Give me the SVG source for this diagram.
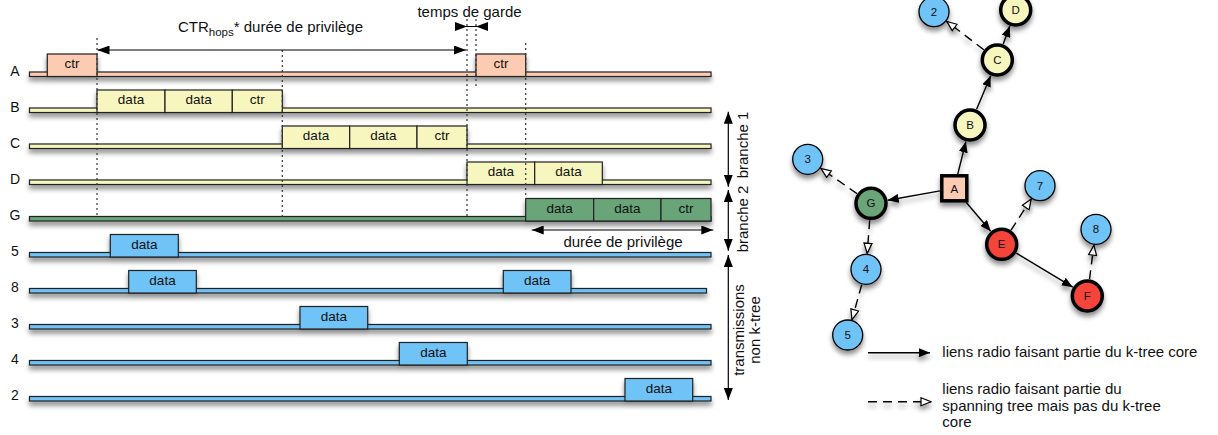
<svg xmlns="http://www.w3.org/2000/svg" width="1218" height="435" viewBox="0 0 1218 435">
<defs>
<filter id="sh" filterUnits="userSpaceOnUse" x="0" y="0" width="1218" height="435">
<feDropShadow dx="0" dy="4" stdDeviation="2.8" flood-color="#000" flood-opacity="0.45"/>
</filter>
<marker id="fa" viewBox="0 0 12 9" refX="12" refY="4.5" markerWidth="12" markerHeight="9" markerUnits="userSpaceOnUse" orient="auto-start-reverse">
<path d="M0,0 L12,4.5 L0,9 Z" fill="#000"/>
</marker>
<marker id="ga" viewBox="0 0 11 9" refX="11" refY="4.5" markerWidth="11" markerHeight="9" markerUnits="userSpaceOnUse" orient="auto">
<path d="M0,0 L11,4.5 L0,9 Z" fill="#000"/>
</marker>
<marker id="oa" viewBox="0 0 12 10" refX="11" refY="5" markerWidth="12" markerHeight="10" markerUnits="userSpaceOnUse" orient="auto">
<path d="M1,1 L11,5 L1,9 Z" fill="#fff" stroke="#000" stroke-width="1.2"/>
</marker>
</defs>
<style>
text{font-family:"Liberation Sans",Arial,sans-serif;fill:#111;}
.lab{font-size:14px;text-anchor:middle;}
.bx{font-size:13.5px;text-anchor:middle;}
.big{font-size:15px;}
.rail,.p{stroke:#222;stroke-width:1.2;}
.pk{fill:#fccbb2;} .yl{fill:#f7f6bf;} .gr{fill:#69a579;} .bl{fill:#6fc3f7;} .rd{fill:#f5443a;}
.dot{stroke:#333;stroke-width:1.2;stroke-dasharray:2,3;fill:none;}
.ar{stroke:#000;stroke-width:1.2;fill:none;}
.solid{stroke:#000;stroke-width:1.4;fill:none;marker-end:url(#ga);}
.dash{stroke:#000;stroke-width:1.4;fill:none;stroke-dasharray:9,6;marker-end:url(#oa);}
.n{font-size:11.5px;text-anchor:middle;}
.thin{stroke:#000;stroke-width:1.3;}
.thick{stroke:#000;stroke-width:3.5;}
</style>

<!-- timing chart -->
<g id="row-A" filter="url(#sh)">
<rect class="rail pk" x="29.5" y="72" width="681.5" height="4.5"/>
<rect class="p pk" x="47.3" y="54" width="49.7" height="22.5"/>
<rect class="p pk" x="476" y="54" width="49.7" height="22.5"/>
</g>
<g id="row-B" filter="url(#sh)">
<rect class="rail yl" x="29.5" y="108" width="681.5" height="4.5"/>
<rect class="p yl" x="97" y="90" width="68" height="22.5"/>
<rect class="p yl" x="165" y="90" width="67.3" height="22.5"/>
<rect class="p yl" x="232.3" y="90" width="50" height="22.5"/>
</g>
<g id="row-C" filter="url(#sh)">
<rect class="rail yl" x="29.5" y="144" width="681.5" height="4.5"/>
<rect class="p yl" x="282.3" y="126" width="67.4" height="22.5"/>
<rect class="p yl" x="349.7" y="126" width="67.3" height="22.5"/>
<rect class="p yl" x="417" y="126" width="50" height="22.5"/>
</g>
<g id="row-D" filter="url(#sh)">
<rect class="rail yl" x="29.5" y="180" width="681.5" height="4.5"/>
<rect class="p yl" x="467" y="162" width="67.7" height="22.5"/>
<rect class="p yl" x="534.7" y="162" width="67.6" height="22.5"/>
</g>
<g id="row-G" filter="url(#sh)">
<rect class="rail gr" x="29.5" y="216.5" width="681.5" height="4.5"/>
<rect class="p gr" x="525.7" y="198.5" width="68" height="22.5"/>
<rect class="p gr" x="593.7" y="198.5" width="67.3" height="22.5"/>
<rect class="p gr" x="661" y="198.5" width="50" height="22.5"/>
</g>
<g id="row-5" filter="url(#sh)">
<rect class="rail bl" x="29.5" y="252.5" width="681.5" height="4.5"/>
<rect class="p bl" x="110.3" y="234.5" width="68" height="22.5"/>
</g>
<g id="row-8" filter="url(#sh)">
<rect class="rail bl" x="29.5" y="288.5" width="677" height="4.5"/>
<rect class="p bl" x="128.7" y="270.5" width="67.6" height="22.5"/>
<rect class="p bl" x="503.3" y="270.5" width="67.7" height="22.5"/>
</g>
<g id="row-3" filter="url(#sh)">
<rect class="rail bl" x="29.5" y="324.5" width="681.5" height="4.5"/>
<rect class="p bl" x="300" y="306.5" width="67.7" height="22.5"/>
</g>
<g id="row-4" filter="url(#sh)">
<rect class="rail bl" x="29.5" y="360.5" width="681.5" height="4.5"/>
<rect class="p bl" x="399.3" y="342.5" width="68" height="22.5"/>
</g>
<g id="row-2" filter="url(#sh)">
<rect class="rail bl" x="29.5" y="396.5" width="681.5" height="4.5"/>
<rect class="p bl" x="625" y="378.5" width="67.7" height="22.5"/>
</g>

<g id="chart-texts">
<text class="lab" x="15" y="76">A</text>
<text class="lab" x="15" y="112">B</text>
<text class="lab" x="15" y="148">C</text>
<text class="lab" x="15" y="184">D</text>
<text class="lab" x="15" y="220">G</text>
<text class="lab" x="15" y="256">5</text>
<text class="lab" x="15" y="292">8</text>
<text class="lab" x="15" y="328">3</text>
<text class="lab" x="15" y="364">4</text>
<text class="lab" x="15" y="400">2</text>
<text class="bx" x="72" y="68">ctr</text>
<text class="bx" x="501" y="68">ctr</text>
<text class="bx" x="131" y="104">data</text>
<text class="bx" x="198.7" y="104">data</text>
<text class="bx" x="257.3" y="104">ctr</text>
<text class="bx" x="316" y="140">data</text>
<text class="bx" x="383.3" y="140">data</text>
<text class="bx" x="442" y="140">ctr</text>
<text class="bx" x="500.8" y="176">data</text>
<text class="bx" x="568.5" y="176">data</text>
<text class="bx" x="559.7" y="212.5">data</text>
<text class="bx" x="627.3" y="212.5">data</text>
<text class="bx" x="686" y="212.5">ctr</text>
<text class="bx" x="144.3" y="248.5">data</text>
<text class="bx" x="162.5" y="284.5">data</text>
<text class="bx" x="537.2" y="284.5">data</text>
<text class="bx" x="333.8" y="320.5">data</text>
<text class="bx" x="433.3" y="356.5">data</text>
<text class="bx" x="658.8" y="392.5">data</text>
</g>

<g id="chart-guides">
<line class="dot" x1="97" y1="38" x2="97" y2="218"/>
<line class="dot" x1="282.3" y1="50" x2="282.3" y2="218"/>
<line class="dot" x1="467" y1="19" x2="467" y2="216"/>
<line class="dot" x1="476" y1="19" x2="476" y2="86"/>
<line class="dot" x1="525.7" y1="43" x2="525.7" y2="199"/>
<line class="ar" x1="97.5" y1="50" x2="466" y2="50" marker-start="url(#fa)" marker-end="url(#fa)"/>
<line class="ar" x1="455" y1="26.5" x2="488" y2="26.5"/>
<path d="M455,22 L467,26.5 L455,31 Z M488,22 L476,26.5 L488,31 Z" fill="#000"/>
<line class="ar" x1="531.7" y1="230" x2="713.3" y2="230" marker-start="url(#fa)" marker-end="url(#fa)"/>
<line class="ar" x1="728.3" y1="111.7" x2="728.3" y2="186.7" marker-start="url(#fa)" marker-end="url(#fa)"/>
<line class="ar" x1="728.3" y1="190" x2="728.3" y2="250.7" marker-start="url(#fa)" marker-end="url(#fa)"/>
<line class="ar" x1="728.3" y1="255" x2="728.3" y2="400" marker-start="url(#fa)" marker-end="url(#fa)"/>
<text class="big" x="178" y="32" font-size="15.5">CTR<tspan font-size="11.5" dy="4">hops</tspan><tspan dy="-4">* durée de privilège</tspan></text>
<text class="big" x="469.5" y="17" text-anchor="middle" font-size="14.5">temps de garde</text>
<text class="big" x="623" y="247" text-anchor="middle">durée de privilège</text>
<text class="big" transform="translate(748,145) rotate(-90)" text-anchor="middle">branche 1</text>
<text class="big" transform="translate(748,219) rotate(-90)" text-anchor="middle">branche 2</text>
<text class="big" transform="translate(743.5,330) rotate(-90)" text-anchor="middle">transmissions</text>
<text class="big" transform="translate(760,330) rotate(-90)" text-anchor="middle">non k-tree</text>
</g>

<!-- graph -->
<g id="connectors" filter="url(#sh)">
<line class="solid" x1="957.8" y1="174" x2="965.9" y2="141.5"/>
<line class="solid" x1="976.6" y1="109.3" x2="990.7" y2="75.7"/>
<line class="solid" x1="1003.2" y1="44" x2="1009.8" y2="26"/>
<line class="dash" x1="983.8" y1="49.7" x2="946.7" y2="21.4"/>
<line class="solid" x1="940" y1="190.9" x2="887.7" y2="200.3"/>
<line class="dash" x1="857" y1="193.6" x2="820.8" y2="168.4"/>
<line class="solid" x1="966.1" y1="202.3" x2="990.7" y2="231.3"/>
<line class="dash" x1="1011" y1="230.1" x2="1031.2" y2="199.1"/>
<line class="solid" x1="1016.3" y1="253.1" x2="1072.8" y2="287.2"/>
<line class="dash" x1="1089.5" y1="279.2" x2="1093.9" y2="245.2"/>
<line class="dash" x1="869.7" y1="220.2" x2="867.2" y2="253.3"/>
<line class="dash" x1="861.7" y1="284.7" x2="852" y2="319.6"/>
</g>
<g id="node-A"><rect class="pk thick" x="941.8" y="175.8" width="25" height="25" filter="url(#sh)"/><text class="n" x="954.3" y="192.5" font-size="12">A</text></g>
<g id="node-B"><circle class="yl thick" cx="970" cy="125" r="15" filter="url(#sh)"/><text class="n" x="970" y="129">B</text></g>
<g id="node-C"><circle class="yl thick" cx="997.3" cy="60" r="15" filter="url(#sh)"/><text class="n" x="997.3" y="64">C</text></g>
<g id="node-D"><circle class="yl thick" cx="1015.7" cy="10" r="15" filter="url(#sh)"/><text class="n" x="1015.7" y="14">D</text></g>
<g id="node-G"><circle class="gr thick" cx="871" cy="203.3" r="15" filter="url(#sh)"/><text class="n" x="871" y="207.3">G</text></g>
<g id="node-E"><circle class="rd thick" cx="1001.7" cy="244.3" r="15" filter="url(#sh)"/><text class="n" x="1001.7" y="248.3">E</text></g>
<g id="node-F"><circle class="rd thick" cx="1087.3" cy="296" r="15" filter="url(#sh)"/><text class="n" x="1087.3" y="300">F</text></g>
<g id="node-2"><circle class="bl thin" cx="934" cy="11.7" r="15" filter="url(#sh)"/><text class="n" x="934" y="15.5">2</text></g>
<g id="node-3"><circle class="bl thin" cx="807.7" cy="159.3" r="15" filter="url(#sh)"/><text class="n" x="807.7" y="163.1">3</text></g>
<g id="node-7"><circle class="bl thin" cx="1040" cy="185.7" r="15" filter="url(#sh)"/><text class="n" x="1040" y="189.5">7</text></g>
<g id="node-8"><circle class="bl thin" cx="1096" cy="229.3" r="15" filter="url(#sh)"/><text class="n" x="1096" y="233.1">8</text></g>
<g id="node-4"><circle class="bl thin" cx="866" cy="269.3" r="15" filter="url(#sh)"/><text class="n" x="866" y="273.1">4</text></g>
<g id="node-5"><circle class="bl thin" cx="847.7" cy="335" r="15" filter="url(#sh)"/><text class="n" x="847.7" y="338.8">5</text></g>

<g id="legend">
<g filter="url(#sh)">
<line class="solid" x1="868" y1="352.7" x2="930" y2="352.7"/>
<line class="dash" x1="868" y1="401.7" x2="931" y2="401.7"/>
</g>
<text class="big" x="942.3" y="357">liens radio faisant partie du k-tree core</text>
<text class="big" x="942.3" y="393.5">liens radio faisant partie du</text>
<text class="big" x="942.3" y="410.5">spanning tree mais pas du k-tree</text>
<text class="big" x="942.3" y="427">core</text>
</g>
</svg>
